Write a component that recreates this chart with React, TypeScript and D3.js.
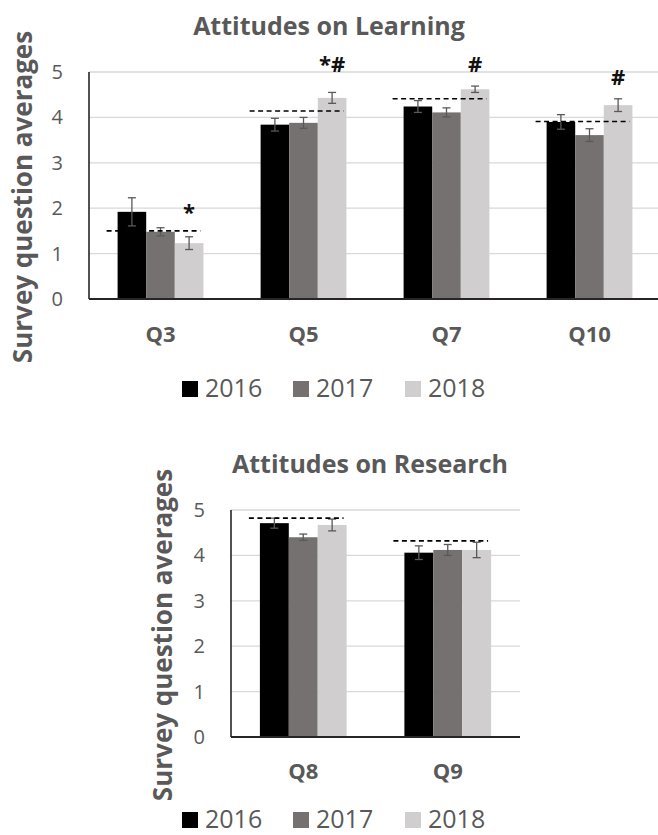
import React from 'react';
import * as d3 from 'd3';

// ---------- data ----------
const years = ['2016', '2017', '2018'];
const yearColors = ['#000000', '#767171', '#d0cece'];

const learningCategories = ['Q3', 'Q5', 'Q7', 'Q10'];
const learning2016 = [1.92, 3.84, 4.24, 3.9];
const learning2017 = [1.48, 3.88, 4.11, 3.61];
const learning2018 = [1.23, 4.43, 4.62, 4.27];
const learningErr2016 = [0.31, 0.14, 0.13, 0.16];
const learningErr2017 = [0.09, 0.12, 0.1, 0.14];
const learningErr2018 = [0.14, 0.12, 0.07, 0.14];
const learningBaseline = [1.5, 4.14, 4.41, 3.91];
const learningMarks = ['*', '*#', '#', '#'];
const learningMarkLevel = [1.74, 5.0, 5.0, 4.71];

const researchCategories = ['Q8', 'Q9'];
const research2016 = [4.71, 4.06];
const research2017 = [4.4, 4.12];
const research2018 = [4.67, 4.12];
const researchErr2016 = [0.11, 0.15];
const researchErr2017 = [0.07, 0.12];
const researchErr2018 = [0.13, 0.17];
const researchBaseline = [4.82, 4.32];
const researchMarks = ['', ''];
const researchMarkLevel = [0, 0];

const yTicks = [0, 1, 2, 3, 4, 5];

const TEXT = '#595959';
const FONT = '"Open Sans", sans-serif';

type PanelProps = {
  title: string;
  titleX: number;
  titleY: number;
  categories: string[];
  values: number[][];
  errors: number[][];
  baseline: number[];
  marks: string[];
  markLevel: number[];
  left: number;
  right: number;
  top: number;
  bottom: number;
  yLabelX: number;
  yLabelY: number;
  xLabelY: number;
  legendY: number;
};

function Panel(p: PanelProps) {
  const x = d3.scaleBand<string>().domain(p.categories).range([p.left, p.right]).paddingInner(0).paddingOuter(0);
  const step = x.bandwidth();
  const inner = d3.scaleBand<string>().domain(years).range([step * 0.2, step * 0.8]);
  const y = d3.scaleLinear().domain([0, 5]).range([p.bottom, p.top]);
  const bw = inner.bandwidth();
  const legendX = [182, 293, 405];
  return (
    <g>
      <text x={p.titleX} y={p.titleY} textAnchor="middle" fontFamily={FONT} fontWeight="bold" fontSize={25} fill={TEXT}>
        {p.title}
      </text>
      {/* gridlines */}
      {yTicks.filter((t) => t > 0).map((t) => (
        <line key={t} x1={p.left} x2={p.right} y1={y(t)} y2={y(t)} stroke="#d9d9d9" strokeWidth={1.3} />
      ))}
      {/* tick labels */}
      {yTicks.map((t) => (
        <text key={t} x={p.left - 26} y={y(t) + 7} textAnchor="end" fontFamily={FONT} fontSize={20} fill={TEXT}>
          {t}
        </text>
      ))}
      {/* bars */}
      {p.categories.map((c, ci) => (
        <g key={c}>
          {years.map((yr, yi) => {
            const v = p.values[yi][ci];
            const e = p.errors[yi][ci];
            const bx = (x(c) as number) + (inner(yr) as number);
            const cx = bx + bw / 2;
            return (
              <g key={yr}>
                <rect x={bx} y={y(v)} width={bw} height={y(0) - y(v)} fill={yearColors[yi]} />
                <line x1={cx} x2={cx} y1={y(v + e)} y2={y(v - e)} stroke="#595959" strokeWidth={1.3} />
                <line x1={cx - 4} x2={cx + 4} y1={y(v + e)} y2={y(v + e)} stroke="#595959" strokeWidth={1.3} />
                <line x1={cx - 4} x2={cx + 4} y1={y(v - e)} y2={y(v - e)} stroke="#595959" strokeWidth={1.3} />
              </g>
            );
          })}
          <line
            x1={(x(c) as number) + step * 0.2 - 11}
            x2={(x(c) as number) + step * 0.8 - 3}
            y1={y(p.baseline[ci])}
            y2={y(p.baseline[ci])}
            stroke="#000"
            strokeWidth={1.6}
            strokeDasharray="5,3.5"
          />
          {p.marks[ci] ? (
            <text
              x={(x(c) as number) + (inner('2018') as number) + bw / 2}
              y={y(p.markLevel[ci])}
              textAnchor="middle"
              fontFamily={FONT}
              fontWeight="bold"
              fontSize={22}
              fill="#111"
            >
              {p.marks[ci]}
            </text>
          ) : null}
          <text
            x={(x(c) as number) + step / 2}
            y={p.xLabelY}
            textAnchor="middle"
            fontFamily={FONT}
            fontWeight="bold"
            fontSize={22}
            fill={TEXT}
          >
            {c}
          </text>
        </g>
      ))}
      {/* axes */}
      <line x1={p.left} x2={p.left} y1={p.top} y2={p.bottom} stroke="#262626" strokeWidth={1.6} />
      <line x1={p.left} x2={p.right} y1={p.bottom} y2={p.bottom} stroke="#262626" strokeWidth={1.8} />
      {/* y label */}
      <text
        transform={`translate(${p.yLabelX},${p.yLabelY}) rotate(-90)`}
        textAnchor="middle"
        fontFamily={FONT}
        fontWeight="bold"
        fontSize={26}
        fill={TEXT}
      >
        Survey question averages
      </text>
      {/* legend */}
      {years.map((yr, i) => (
        <g key={yr}>
          <rect x={legendX[i]} y={p.legendY - 16} width={16} height={16} fill={yearColors[i]} />
          <text x={legendX[i] + 23} y={p.legendY} fontFamily={FONT} fontSize={25} fill={TEXT}>
            {yr}
          </text>
        </g>
      ))}
    </g>
  );
}

export default function App() {
  return (
    <svg width={658} height={835} style={{ position: 'absolute', left: 0, top: 0, background: '#fff' }}>
      <rect width={658} height={835} fill="#fff" />
      <Panel
        title="Attitudes on Learning"
        titleX={329}
        titleY={35}
        categories={learningCategories}
        values={[learning2016, learning2017, learning2018]}
        errors={[learningErr2016, learningErr2017, learningErr2018]}
        baseline={learningBaseline}
        marks={learningMarks}
        markLevel={learningMarkLevel}
        left={89}
        right={661}
        top={72}
        bottom={299}
        yLabelX={32}
        yLabelY={197}
        xLabelY={342}
        legendY={397}
      />
      <Panel
        title="Attitudes on Research"
        titleX={370}
        titleY={473}
        categories={researchCategories}
        values={[research2016, research2017, research2018]}
        errors={[researchErr2016, researchErr2017, researchErr2018]}
        baseline={researchBaseline}
        marks={researchMarks}
        markLevel={researchMarkLevel}
        left={231}
        right={520}
        top={510}
        bottom={737}
        yLabelX={172}
        yLabelY={635}
        xLabelY={779}
        legendY={828}
      />
    </svg>
  );
}
